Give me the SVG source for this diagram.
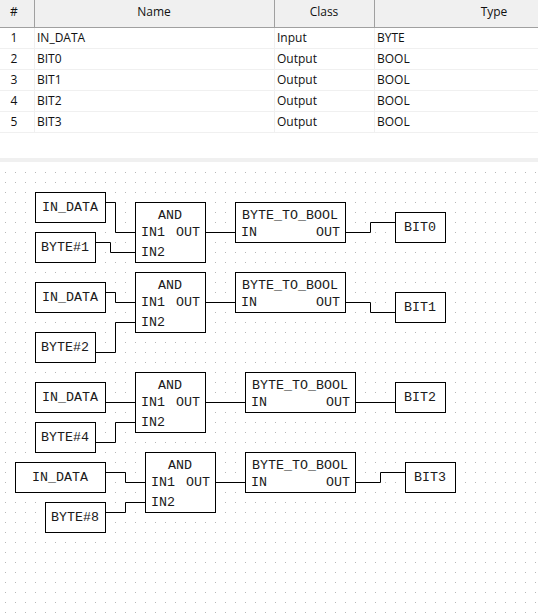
<svg xmlns="http://www.w3.org/2000/svg" width="538" height="615" viewBox="0 0 538 615">
<style>
.hdr{font:12px "Open Sans","Noto Sans",sans-serif;fill:#111;text-anchor:middle}
.cell{font:12px "Open Sans","Noto Sans",sans-serif;fill:#111}
.num{font:12px "Open Sans","Noto Sans",sans-serif;fill:#111;text-anchor:middle}
.b{fill:#fff;stroke:#000;stroke-width:1}
.t{font:13.33px "Liberation Mono",monospace;fill:#1a1a1a}
.w{fill:none;stroke:#000;stroke-width:1}
.sep{stroke:#a0a0a0;stroke-width:1}
.row{stroke:#f0f0f0;stroke-width:1}
</style>
<defs>
<pattern id="grid" x="5" y="172" width="10" height="10" patternUnits="userSpaceOnUse"><rect width="1" height="1" fill="#b8b8b8"/></pattern>
</defs>
<rect width="538" height="615" fill="#fff"/>
<g id="table">
<rect x="0" y="0" width="538" height="27" fill="#f0f0f0"/>
<line class="sep" x1="0" y1="27.5" x2="538" y2="27.5"/>
<line class="sep" x1="34.5" y1="0" x2="34.5" y2="27"/>
<line class="sep" x1="274.5" y1="0" x2="274.5" y2="27"/>
<line class="sep" x1="374.5" y1="0" x2="374.5" y2="27"/>
<line class="row" x1="0" y1="48.5" x2="538" y2="48.5"/>
<line class="row" x1="0" y1="69.5" x2="538" y2="69.5"/>
<line class="row" x1="0" y1="90.5" x2="538" y2="90.5"/>
<line class="row" x1="0" y1="111.5" x2="538" y2="111.5"/>
<line class="row" x1="0" y1="132.5" x2="538" y2="132.5"/>
<line class="row" x1="34.5" y1="28" x2="34.5" y2="132"/>
<line class="row" x1="274.5" y1="28" x2="274.5" y2="132"/>
<line class="row" x1="374.5" y1="28" x2="374.5" y2="132"/>
<text class="hdr" x="14" y="16">#</text>
<text class="hdr" x="154" y="16">Name</text>
<text class="hdr" x="324" y="16">Class</text>
<text class="hdr" x="494" y="16">Type</text>
<text class="num" x="14" y="42">1</text><text class="cell" x="37" y="42">IN_DATA</text><text class="cell" x="277" y="42">Input</text><text class="cell" x="377" y="42">BYTE</text>
<text class="num" x="14" y="63">2</text><text class="cell" x="37" y="63">BIT0</text><text class="cell" x="277" y="63">Output</text><text class="cell" x="377" y="63">BOOL</text>
<text class="num" x="14" y="84">3</text><text class="cell" x="37" y="84">BIT1</text><text class="cell" x="277" y="84">Output</text><text class="cell" x="377" y="84">BOOL</text>
<text class="num" x="14" y="105">4</text><text class="cell" x="37" y="105">BIT2</text><text class="cell" x="277" y="105">Output</text><text class="cell" x="377" y="105">BOOL</text>
<text class="num" x="14" y="126">5</text><text class="cell" x="37" y="126">BIT3</text><text class="cell" x="277" y="126">Output</text><text class="cell" x="377" y="126">BOOL</text>
<rect x="0" y="158" width="538" height="4" fill="#f0f0f0"/>
</g>
<rect id="dots" x="0" y="165" width="538" height="450" fill="url(#grid)"/>
<g id="connectors">
<path class="w" d="M105.5 202.5H115.5V232.5H135.5M95.5 242.5H110.5V252.5H135.5M205.5 232.5H235.5M345.5 232.5H370.5V222.5H395.5"/>
<path class="w" d="M105.5 292.5H115.5V302.5H135.5M95.5 352.5H115.5V322.5H135.5M205.5 302.5H235.5M345.5 302.5H370.5V312.5H395.5"/>
<path class="w" d="M105.5 402.5H135.5M95.5 442.5H115.5V422.5H135.5M205.5 402.5H245.5M355.5 402.5H395.5"/>
<path class="w" d="M105.5 472.5H125.5V482.5H145.5M105.5 512.5H125.5V502.5H145.5M215.5 482.5H245.5M355.5 482.5H380.5V472.5H405.5"/>
</g>
<g id="in1"><rect class="b" x="35.5" y="192.5" width="70" height="30"/><text class="t" x="42" y="211">IN_DATA</text></g>
<g id="byte1"><rect class="b" x="35.5" y="232.5" width="60" height="30"/><text class="t" x="41" y="251">BYTE#1</text></g>
<g id="and1"><rect class="b" x="135.5" y="202.5" width="70" height="60"/><text class="t" x="158" y="219">AND</text><text class="t" x="141" y="236">IN1</text><text class="t" x="176" y="236">OUT</text><text class="t" x="141" y="256">IN2</text></g>
<g id="btb1"><rect class="b" x="235.5" y="202.5" width="110" height="40"/><text class="t" x="242" y="219">BYTE_TO_BOOL</text><text class="t" x="241" y="236">IN</text><text class="t" x="316" y="236">OUT</text></g>
<g id="bit0"><rect class="b" x="395.5" y="212.5" width="50" height="30"/><text class="t" x="404" y="231">BIT0</text></g>
<g id="in2"><rect class="b" x="35.5" y="282.5" width="70" height="30"/><text class="t" x="42" y="301">IN_DATA</text></g>
<g id="byte2"><rect class="b" x="35.5" y="332.5" width="60" height="30"/><text class="t" x="41" y="351">BYTE#2</text></g>
<g id="and2"><rect class="b" x="135.5" y="272.5" width="70" height="60"/><text class="t" x="158" y="289">AND</text><text class="t" x="141" y="306">IN1</text><text class="t" x="176" y="306">OUT</text><text class="t" x="141" y="326">IN2</text></g>
<g id="btb2"><rect class="b" x="235.5" y="272.5" width="110" height="40"/><text class="t" x="242" y="289">BYTE_TO_BOOL</text><text class="t" x="241" y="306">IN</text><text class="t" x="316" y="306">OUT</text></g>
<g id="bit1"><rect class="b" x="395.5" y="292.5" width="50" height="30"/><text class="t" x="404" y="311">BIT1</text></g>
<g id="in3"><rect class="b" x="35.5" y="382.5" width="70" height="30"/><text class="t" x="42" y="401">IN_DATA</text></g>
<g id="byte4"><rect class="b" x="35.5" y="422.5" width="60" height="30"/><text class="t" x="41" y="441">BYTE#4</text></g>
<g id="and3"><rect class="b" x="135.5" y="372.5" width="70" height="60"/><text class="t" x="158" y="389">AND</text><text class="t" x="141" y="406">IN1</text><text class="t" x="176" y="406">OUT</text><text class="t" x="141" y="426">IN2</text></g>
<g id="btb3"><rect class="b" x="245.5" y="372.5" width="110" height="40"/><text class="t" x="252" y="389">BYTE_TO_BOOL</text><text class="t" x="251" y="406">IN</text><text class="t" x="326" y="406">OUT</text></g>
<g id="bit2"><rect class="b" x="395.5" y="382.5" width="50" height="30"/><text class="t" x="404" y="401">BIT2</text></g>
<g id="in4"><rect class="b" x="15.5" y="462.5" width="90" height="30"/><text class="t" x="32" y="481">IN_DATA</text></g>
<g id="byte8"><rect class="b" x="45.5" y="502.5" width="60" height="30"/><text class="t" x="51" y="521">BYTE#8</text></g>
<g id="and4"><rect class="b" x="145.5" y="452.5" width="70" height="60"/><text class="t" x="168" y="469">AND</text><text class="t" x="151" y="486">IN1</text><text class="t" x="186" y="486">OUT</text><text class="t" x="151" y="506">IN2</text></g>
<g id="btb4"><rect class="b" x="245.5" y="452.5" width="110" height="40"/><text class="t" x="252" y="469">BYTE_TO_BOOL</text><text class="t" x="251" y="486">IN</text><text class="t" x="326" y="486">OUT</text></g>
<g id="bit3"><rect class="b" x="405.5" y="462.5" width="50" height="30"/><text class="t" x="414" y="481">BIT3</text></g>
</svg>
